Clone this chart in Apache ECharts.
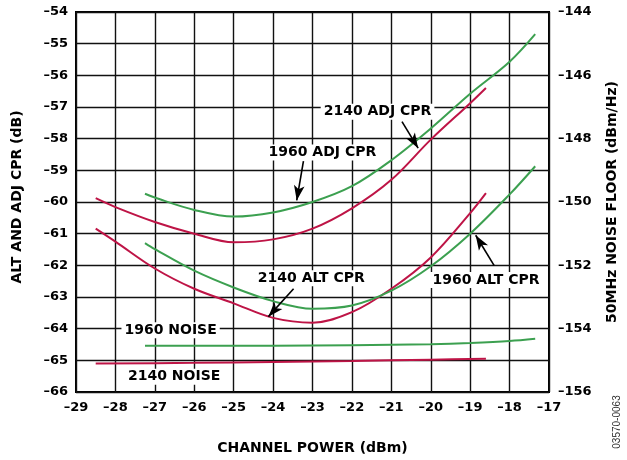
<!DOCTYPE html>
<html>
<head>
<meta charset="utf-8">
<script src="https://cdn.jsdelivr.net/npm/echarts@6/dist/echarts.min.js"></script>
<style>
html,body{margin:0;padding:0;background:#fff;}
#chart{width:627px;height:460px;}
</style>
</head>
<body>
<div id="chart"></div>
<script>
// ---- data ----
const adj2140X = [-28.5, -28, -27, -26, -25, -24, -23, -22, -21, -20, -19, -18.6];
const adj2140Y = [-59.88, -60.16, -60.63, -61.0, -61.27, -61.18, -60.84, -60.2, -59.3, -58.03, -56.88, -56.4];

const adj1960X = [-27.25, -27, -26, -25, -24, -23, -22, -21, -20, -19, -18, -17.35];
const adj1960Y = [-59.74, -59.86, -60.25, -60.46, -60.33, -60.0, -59.5, -58.68, -57.68, -56.58, -55.57, -54.7];

const alt2140X = [-28.5, -28, -27, -26, -25, -24, -23, -22, -21, -20, -19, -18.6];
const alt2140Y = [-60.84, -61.25, -62.1, -62.74, -63.2, -63.66, -63.81, -63.48, -62.74, -61.75, -60.35, -59.72];

const alt1960X = [-27.25, -27, -26, -25, -24, -23, -22, -21, -20, -19, -18, -17.35];
const alt1960Y = [-61.3, -61.49, -62.17, -62.7, -63.13, -63.37, -63.27, -62.8, -62.03, -61.0, -59.76, -58.87];

const noise1960X = [-27.25, -25, -23, -21, -20, -19, -18, -17.35];
const noise1960Y = [-64.54, -64.54, -64.53, -64.51, -64.49, -64.45, -64.39, -64.32];

const noise2140X = [-28.5, -26, -24, -22, -20, -18.6];
const noise2140Y = [-65.1, -65.08, -65.05, -65.02, -64.98, -64.95];

// axes
const xMin = -29, xMax = -17, xStep = 1;
const yLeftMin = -66, yLeftMax = -54, yLeftStep = 1;
const yRightMin = -156, yRightMax = -144, yRightStep = 2;

// annotation texts and anchor points (data coordinates)
const labelTexts = ['2140 ADJ CPR', '1960 ADJ CPR', '2140 ALT CPR', '1960 ALT CPR', '1960 NOISE', '2140 NOISE'];
const labelX = [-21.35, -22.75, -23.03, -18.60, -26.60, -26.51];
const labelY = [-57.15, -58.44, -62.41, -62.46, -64.05, -65.52];

const arrowFrom = [[-20.73, -57.46], [-23.23, -58.71], [-23.48, -62.74], [-18.39, -62.01]];
const arrowTo   = [[-20.32, -58.30], [-23.40, -59.95], [-24.12, -63.62], [-18.86, -61.05]];

// ---- build ----
const RED = '#be1446';
const GREEN = '#3ca050';
const FONT = 'DejaVu Sans';

function pairs(xs, ys) { return xs.map((x, i) => [x, ys[i]]); }
function dash(v) { return String(v).replace('-', '\u2013'); }

function lineSeries(name, xs, ys, color) {
  return {
    name: name, type: 'line', xAxisIndex: 0, yAxisIndex: 0,
    data: pairs(xs, ys), smooth: 0.35, showSymbol: false, symbol: 'none',
    lineStyle: { color: color, width: 2 }, itemStyle: { color: color },
    z: 3, silent: true
  };
}

const series = [
  lineSeries('2140 ADJ CPR', adj2140X, adj2140Y, RED),
  lineSeries('1960 ADJ CPR', adj1960X, adj1960Y, GREEN),
  lineSeries('2140 ALT CPR', alt2140X, alt2140Y, RED),
  lineSeries('1960 ALT CPR', alt1960X, alt1960Y, GREEN),
  lineSeries('1960 NOISE', noise1960X, noise1960Y, GREEN),
  lineSeries('2140 NOISE', noise2140X, noise2140Y, RED)
];

series.push({
  name: 'annotations', type: 'line', xAxisIndex: 0, yAxisIndex: 0, data: [], silent: true, z: 5,
  markPoint: {
    silent: true, symbol: 'rect', symbolSize: 0, animation: false,
    data: labelTexts.map((t, i) => ({
      coord: [labelX[i], labelY[i]],
      label: {
        show: true, position: 'inside', formatter: t,
        color: '#000', fontFamily: FONT, fontWeight: 'bold', fontSize: 14,
        backgroundColor: '#fff', padding: [1, 3, 1, 3]
      }
    }))
  },
  markLine: {
    silent: true, animation: false, symbol: ['none', 'arrow'], symbolSize: [8, 15],
    label: { show: false },
    lineStyle: { color: '#000', width: 1.6, type: 'solid' },
    data: arrowFrom.map((p, i) => [{ coord: p }, { coord: arrowTo[i] }])
  }
});

const tickFont = { color: '#000', fontFamily: FONT, fontWeight: 'bold', fontSize: 13 };
const nameFont = { color: '#000', fontFamily: FONT, fontWeight: 'bold', fontSize: 14 };

const option = {
  animation: false,
  backgroundColor: '#fff',
  grid: { left: 76, right: 71, top: 12, bottom: 66, show: true, borderColor: '#000', borderWidth: 2, backgroundColor: 'transparent' },
  xAxis: [{
    type: 'value', min: xMin, max: xMax, interval: xStep,
    name: 'CHANNEL POWER (dBm)', nameLocation: 'middle', nameGap: 49, nameTextStyle: nameFont,
    axisLine: { show: false }, axisTick: { show: false },
    axisLabel: Object.assign({ margin: 9, formatter: dash }, tickFont),
    splitLine: { show: true, lineStyle: { color: '#111', width: 1.4 } }
  }],
  yAxis: [{
    type: 'value', position: 'left', min: yLeftMin, max: yLeftMax, interval: yLeftStep,
    name: 'ALT AND ADJ CPR (dB)', nameLocation: 'middle', nameGap: 52, nameRotate: 90,
    nameTextStyle: Object.assign({ padding: [0, 0, 0, 10] }, nameFont),
    axisLine: { show: false }, axisTick: { show: false },
    axisLabel: Object.assign({ margin: 8, formatter: dash }, tickFont),
    splitLine: { show: true, lineStyle: { color: '#111', width: 1.4 } }
  }, {
    type: 'value', position: 'right', min: yRightMin, max: yRightMax, interval: yRightStep,
    name: '50MHz NOISE FLOOR (dBm/Hz)', nameLocation: 'middle', nameGap: 56, nameRotate: 90, nameTextStyle: nameFont,
    axisLine: { show: false }, axisTick: { show: false },
    axisLabel: Object.assign({ margin: 9, formatter: dash }, tickFont),
    splitLine: { show: false }
  }],
  graphic: [{
    type: 'text', x: 617, y: 422, rotation: Math.PI / 2,
    style: { text: '03570-0063', fill: '#333', font: '10px "Liberation Sans", Arial, sans-serif', align: 'center', verticalAlign: 'middle' }
  }],
  series: series
};

const chart = echarts.init(document.getElementById('chart'), null, { renderer: 'canvas' });
chart.setOption(option);
</script>
</body>
</html>
